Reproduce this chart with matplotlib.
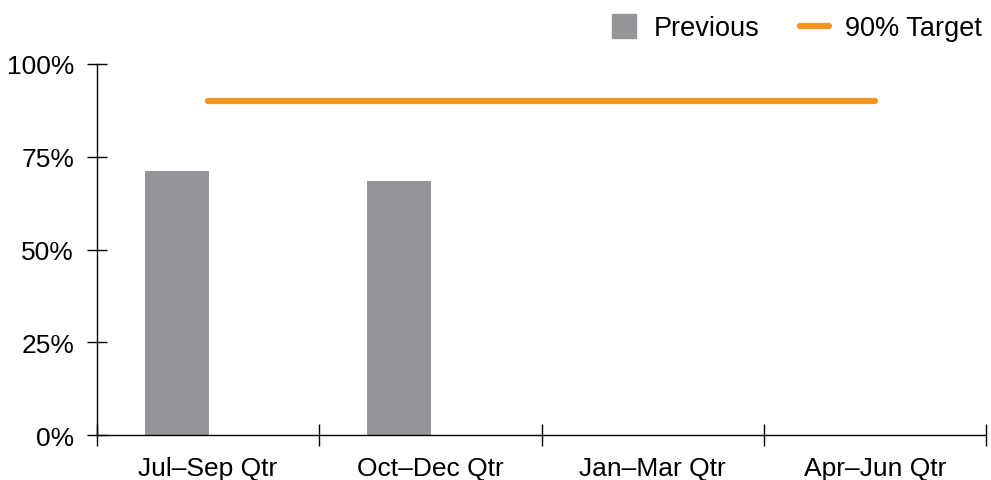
import matplotlib.pyplot as plt
from matplotlib.lines import Line2D
import numpy as np

plt.rcParams['font.family'] = ['Liberation Sans', 'DejaVu Sans']

quarters = ['Jul\u2013Sep Qtr', 'Oct\u2013Dec Qtr', 'Jan\u2013Mar Qtr', 'Apr\u2013Jun Qtr']
previous = [0.712, 0.685, np.nan, np.nan]
target = [0.90, 0.90, 0.90, 0.90]

grey = '#939598'
orange = '#F7941D'

fig = plt.figure(figsize=(9.91, 4.81), dpi=100)
ax = fig.add_axes([97/991, 1-436/481, (986-97)/991, (436-65)/481])

x = np.arange(len(quarters))
ax.bar(x - 0.14, previous, width=0.288, color=grey)
ax.plot(x, target, color=orange, lw=4.5, solid_capstyle='round')

ax.set_xlim(-0.5, 3.5)
ax.set_ylim(0, 1)
ax.set_yticks([0, 0.25, 0.5, 0.75, 1.0])
ax.set_yticklabels(['0%', '25%', '50%', '75%', '100%'])
ax.set_xticks(x)
ax.set_xticklabels(quarters)
ax.set_xticks(np.arange(-0.5, 4, 1), minor=True)
ax.tick_params(axis='x', which='major', length=0, pad=15, labelsize=19)
ax.tick_params(axis='x', which='minor', direction='inout', length=16, width=1)
ax.tick_params(axis='y', direction='inout', length=15, width=1, labelsize=19, pad=9)
for s in ['top', 'right']:
    ax.spines[s].set_visible(False)
ax.spines['left'].set_linewidth(1)
ax.spines['bottom'].set_linewidth(1)

# legend handles
h_prev = Line2D([], [], ls='none', marker='s', markersize=17, color=grey, label='Previous')
h_tgt = Line2D([], [], color=orange, lw=4.5, solid_capstyle='round', label='90% Target')
fig.legend(handles=[h_prev, h_tgt], loc='upper right', bbox_to_anchor=(1.007, 1.0), ncol=2,
           frameon=False, fontsize=19.5, handlelength=1.07,
           columnspacing=1.48, handletextpad=0.59, borderaxespad=0.2)

fig.savefig('out.png', dpi=100)
